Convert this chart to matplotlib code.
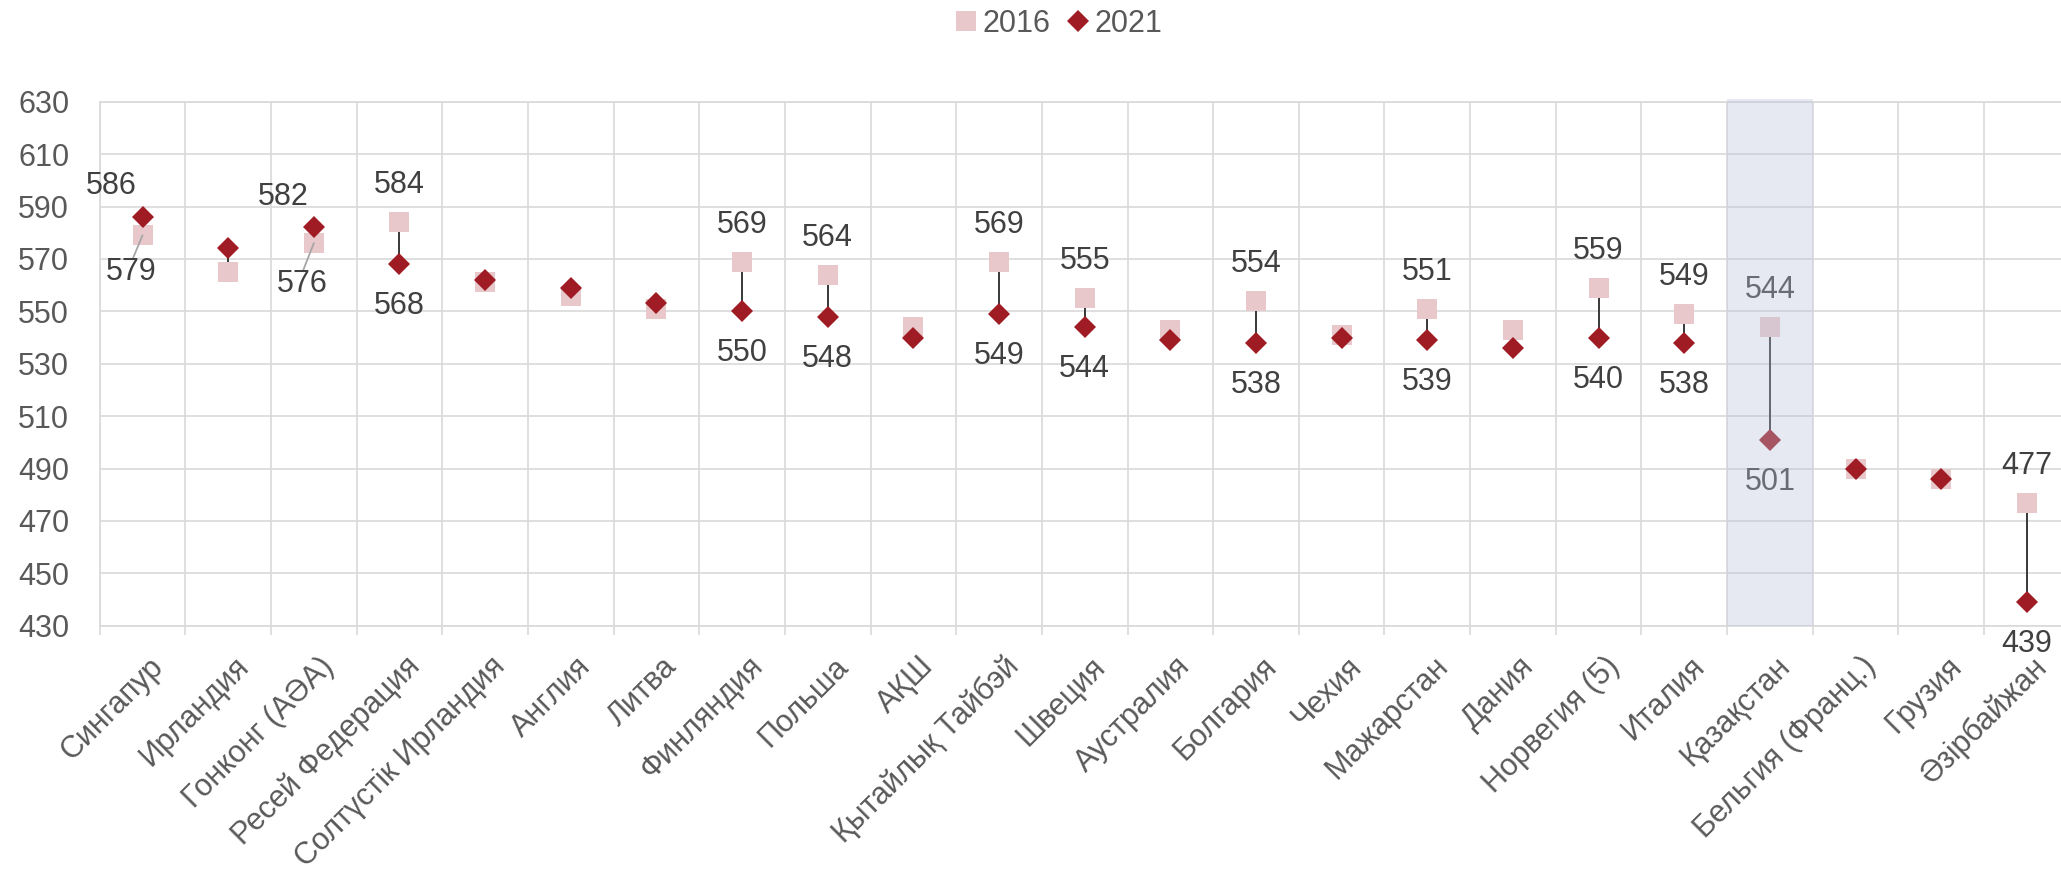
import matplotlib
matplotlib.use("Agg")
import matplotlib.pyplot as plt
from matplotlib.lines import Line2D
from matplotlib.transforms import ScaledTranslation
import numpy as np

plt.rcParams['font.family'] = ['Liberation Sans', 'DejaVu Sans']

categories = ["Сингапур", "Ирландия", "Гонконг (АӘА)", "Ресей Федерация",
              "Солтүстік Ирландия", "Англия", "Литва", "Финляндия", "Польша",
              "АҚШ", "Қытайлық Тайбэй", "Швеция", "Аустралия", "Болгария",
              "Чехия", "Мажарстан", "Дания", "Норвегия (5)", "Италия",
              "Қазақстан", "Бельгия (Франц.)", "Грузия", "Әзірбайжан"]
values_2016 = [579, 565, 576, 584, 561, 556, 551, 569, 564, 544, 569, 555, 543,
               554, 541, 551, 543, 559, 549, 544, 490, 486, 477]
values_2021 = [586, 574, 582, 568, 562, 559, 553, 550, 548, 540, 549, 544, 539,
               538, 540, 539, 536, 540, 538, 501, 490, 486, 439]
labeled = ["Сингапур", "Гонконг (АӘА)", "Ресей Федерация", "Финляндия", "Польша",
           "Қытайлық Тайбэй", "Швеция", "Болгария", "Мажарстан", "Норвегия (5)",
           "Италия", "Қазақстан", "Әзірбайжан"]
highlight = "Қазақстан"
y_ticks = list(range(430, 631, 20))
series_names = ["2016", "2021"]

W, H = 2061, 874
fig = plt.figure(figsize=(W / 100, H / 100), dpi=100)
left_px, right_px, top_px, bottom_px = 99.7, 2069.7, 101.7, 625.7
ax = fig.add_axes([left_px / W, 1 - bottom_px / H, (right_px - left_px) / W,
                   (bottom_px - top_px) / H])

x = np.arange(len(categories))
grid_c = "#D9D9D9"
pink = "#E8C8CA"
red = "#A01C24"
txt = "#404040"
tick_c = "#595959"

ax.set_xlim(-0.5, len(categories) - 0.5)
ax.set_ylim(y_ticks[0], y_ticks[-1])
ax.set_yticks(y_ticks)
ax.set_xticks(x)
ax.set_xticks(np.arange(-0.5, len(categories)), minor=True)
ax.set_xticklabels(categories, rotation=45, ha='right', va='center',
                   rotation_mode='anchor', fontsize=22, color=tick_c)
ax.tick_params(axis='x', which='major', length=0, pad=29)
ax.tick_params(axis='x', which='minor', length=9 * 0.72, width=1.2, color=grid_c,
               direction='out')
ax.tick_params(axis='y', length=0, pad=22, labelsize=22, labelcolor=tick_c)
shift = ScaledTranslation(16 / 100, 4 / 100, fig.dpi_scale_trans)
for lab in ax.get_xticklabels():
    lab.set_transform(lab.get_transform() + shift)
ax.grid(True, axis='y', color=grid_c, linewidth=1.2, zorder=0)
ax.grid(True, axis='x', which='minor', color=grid_c, linewidth=1.2, zorder=0)
ax.grid(False, axis='x', which='major')
for s in ax.spines.values():
    s.set_color(grid_c)
    s.set_linewidth(1.2)
ax.spines['right'].set_visible(False)
ax.set_axisbelow(True)

# connectors
ax.vlines(x, values_2021, values_2016, color="#383838", linewidth=1.4, zorder=2)
ax.plot(x, values_2016, linestyle='none', marker='s', markersize=15,
        color=pink, markeredgewidth=0, zorder=3)
ax.plot(x, values_2021, linestyle='none', marker='D', markersize=11.5,
        color=red, markeredgewidth=0, zorder=4)

special = {"Сингапур": ((-31, -31), (-11, 37)),
           "Гонконг (АӘА)": ((-31, -30), (-12, 41))}
for i, c in enumerate(categories):
    if c not in labeled:
        continue
    v16, v21 = values_2016[i], values_2021[i]
    if c in special:
        (dx21, dy21), (dx16, dy16) = special[c]
        ax.annotate(str(v21), (i, v21), xytext=(dx21, -dy21),
                    textcoords='offset pixels', ha='center', va='center',
                    fontsize=22, color=txt, zorder=6)
        ax.annotate(str(v16), (i, v16), xytext=(dx16, -dy16),
                    textcoords='offset pixels', ha='center', va='center',
                    fontsize=22, color=txt, zorder=6)
        ax.annotate("", (i, v16), xytext=(dx16 + 1, -dy16 + 13),
                    textcoords='offset pixels',
                    arrowprops=dict(arrowstyle='-', color='#A6A6A6', lw=1.3,
                                    shrinkA=0, shrinkB=0), zorder=5)
    else:
        ax.annotate(str(v16), (i, v16), xytext=(0, 37),
                    textcoords='offset pixels', ha='center', va='center',
                    fontsize=22, color=txt, zorder=6)
        ax.annotate(str(v21), (i, v21), xytext=(0, -42),
                    textcoords='offset pixels', ha='center', va='center',
                    fontsize=22, color=txt, zorder=6)

hi = categories.index(highlight)
ax.axvspan(hi - 0.5, hi + 0.5, ymin=0, ymax=1.006, color='#B8C0DA', alpha=0.35,
           linewidth=0, zorder=10, clip_on=False)

handles = [Line2D([], [], linestyle='none', marker='s', markersize=15, color=pink,
                  markeredgewidth=0),
           Line2D([], [], linestyle='none', marker='D', markersize=11.5, color=red,
                  markeredgewidth=0)]
leg = fig.legend(handles, series_names, loc='center',
                 bbox_to_anchor=(1058 / W, 1 - 24 / H), ncol=2, frameon=False,
                 fontsize=22, handlelength=0.8, handletextpad=0.15,
                 columnspacing=0.5, borderpad=0)
for t in leg.get_texts():
    t.set_color(tick_c)

fig.savefig("out.png", dpi=100)
